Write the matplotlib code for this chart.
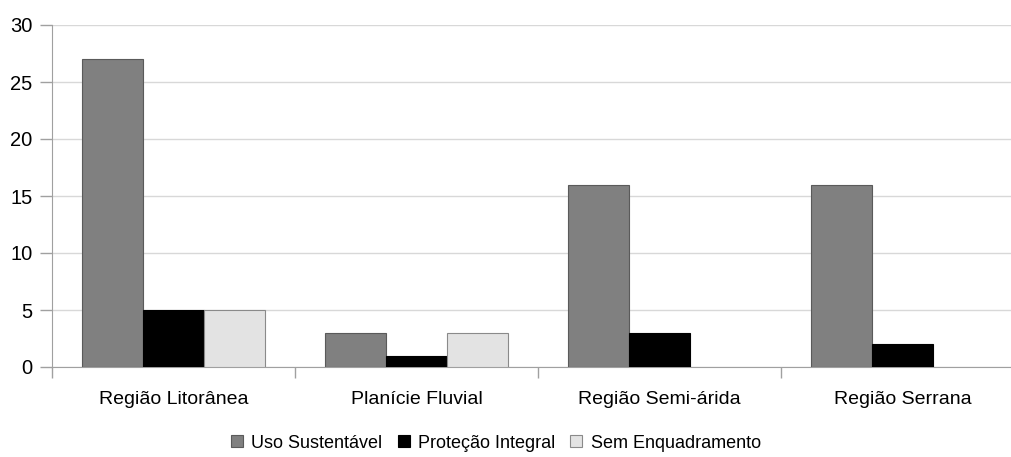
import matplotlib.pyplot as plt
import numpy as np

plt.rcParams['font.family'] = ['Liberation Sans', 'DejaVu Sans']

regioes = ["Região Litorânea", "Planície Fluvial", "Região Semi-árida", "Região Serrana"]
uso_sustentavel = [27, 3, 16, 16]
protecao_integral = [5, 1, 3, 2]
sem_enquadramento = [5, 3, 0, 0]

series = [
    ("Uso Sustentável", uso_sustentavel, "#808080", "#5a5a5a"),
    ("Proteção Integral", protecao_integral, "#000000", "#000000"),
    ("Sem Enquadramento", sem_enquadramento, "#e3e3e3", "#8a8a8a"),
]

fig = plt.figure(figsize=(10.11, 4.57), dpi=100)
ax = fig.add_axes([52 / 1011, 1 - 367 / 457, 1 - 52 / 1011, (367 - 25) / 457])

x = np.arange(len(regioes))
w = 0.25
for k, (nome, vals, cor, borda) in enumerate(series):
    vals = np.array(vals, dtype=float)
    mask = vals > 0
    ax.bar(x[mask] + (k - 1) * w, vals[mask], w, color=cor, edgecolor=borda,
           linewidth=0.8, label=nome, zorder=3)

ax.set_ylim(0, 30)
ax.set_xlim(-0.5, -0.5 + 959 / 243)
ax.set_yticks(range(0, 31, 5))
ax.yaxis.grid(True, color="#d8d8d8", linewidth=1.0, zorder=0)

ax.set_xticks(x)
ax.set_xticklabels(regioes)
ax.set_xticks(np.arange(len(regioes)) - 0.5, minor=True)
ax.tick_params(axis="x", which="major", length=0, pad=17, labelsize=14)
ax.tick_params(axis="x", which="minor", length=8, color="#a0a0a0", width=1)
ax.tick_params(axis="y", length=9, color="#a0a0a0", width=1, pad=5, labelsize=14.5)

for s in ["top", "right"]:
    ax.spines[s].set_visible(False)
for s in ["left", "bottom"]:
    ax.spines[s].set_color("#a0a0a0")
ax.spines["left"].set_bounds(0, 30)

fig.legend(loc="center", bbox_to_anchor=(496 / 1011, 1 - 443 / 457), ncol=3,
           frameon=False, fontsize=13, handlelength=0.66, handleheight=0.66,
           handletextpad=0.45, columnspacing=0.85, borderpad=0)

fig.savefig("out.png", dpi=100)
